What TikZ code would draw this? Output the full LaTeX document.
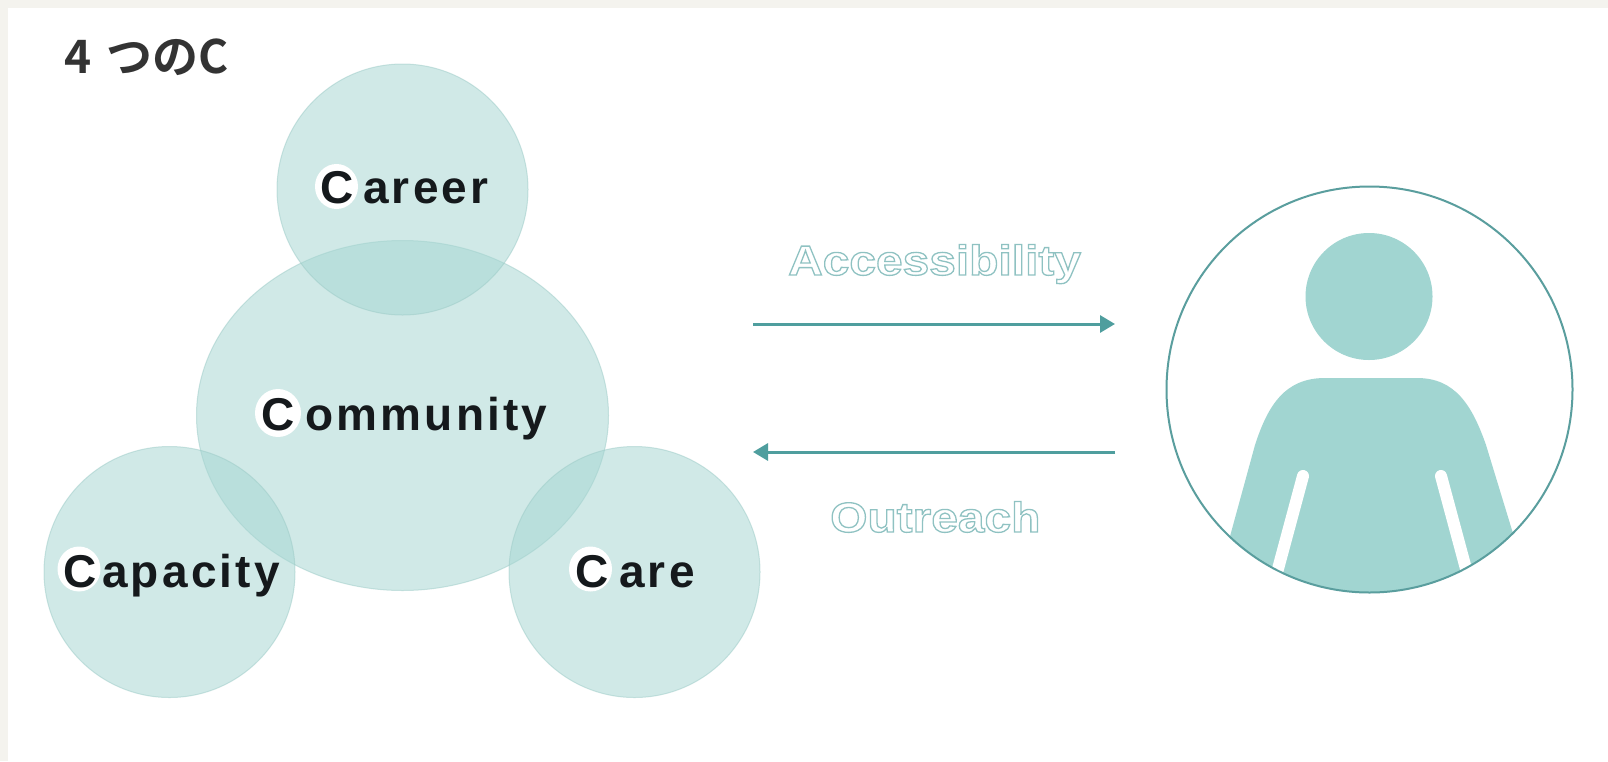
\documentclass[tikz,border=0pt]{standalone}
\usepackage{fontspec}
\usetikzlibrary{arrows.meta,shapes.geometric}
\newfontfamily\labelfont[LetterSpace=7]{Liberation Sans Bold}
\newfontfamily\capfont{Liberation Sans Bold}
\newfontfamily\outlinefont[FakeStretch=1.14]{Liberation Sans Bold}
\newfontfamily\titlefont{Noto Sans CJK JP Bold}
\definecolor{pagebg}{HTML}{F4F3EE}
\definecolor{vennfill}{HTML}{A5D6D2}
\definecolor{vennedge}{HTML}{9CCBC7}
\definecolor{persona}{HTML}{A1D5D1}
\definecolor{ringcol}{HTML}{5A9E9E}
\definecolor{arrowcol}{HTML}{4F9E9E}
\definecolor{inkcol}{HTML}{15191C}
\definecolor{titlecol}{HTML}{333333}
\newcommand{\outlined}[1]{\special{pdf:code q 1 Tr 1.3 w 0.56 0.76 0.76 RG}{\outlinefont #1}\special{pdf:code Q}}
\tikzset{
  venncircle/.style={circle,minimum size=251pt,inner sep=0pt,fill=vennfill,fill opacity=0.52,draw=vennedge,draw opacity=0.5,line width=1pt},
  vennmain/.style={ellipse,minimum width=412pt,minimum height=350pt,inner sep=0pt,fill=vennfill,fill opacity=0.52,draw=vennedge,draw opacity=0.5,line width=1pt},
  halo/.style={ellipse,minimum width=43pt,minimum height=45pt,inner sep=0pt,fill=white},
  capletter/.style={anchor=base west,inner sep=0pt,text=inkcol,font=\capfont\fontsize{46}{46}\selectfont},
  restletters/.style={anchor=base west,inner sep=0pt,text=inkcol,font=\labelfont\fontsize{46}{46}\selectfont},
  linkarrow/.style={draw=arrowcol,line width=3pt,-{Triangle[length=15pt,width=17pt,fill=arrowcol]},shorten >=0pt},
  outlinetext/.style={anchor=base west,inner sep=0pt,font=\fontsize{42}{42}\selectfont}
}
\begin{document}
\begin{tikzpicture}[x=1pt,y=-1pt]
\useasboundingbox (0,0) rectangle (1608,761);
\fill[pagebg] (0,0) rectangle (1608,761);
\fill[white] (8,8) rectangle (1608,761);
% title
\node[anchor=base west,inner sep=0pt,text=titlecol,font=\titlefont\fontsize{46}{46}\selectfont] (title) at (64,73) {4\hspace{15pt}つのC};
% venn
\node[vennmain] (community) at (402.5,415.5) {};
\node[venncircle] (career) at (402.5,189.5) {};
\node[venncircle] (capacity) at (169.5,572) {};
\node[venncircle] (care) at (634.5,572) {};
% halos
\node[halo] (hcareer) at (336.5,186.5) {};
\node[halo,minimum width=46pt,minimum height=48pt] (hcommunity) at (278,413) {};
\node[halo] (hcapacity) at (79,569) {};
\node[halo] (hcare) at (590.5,569) {};
% labels
\node[capletter] (ccareer) at (320,203) {C};
\node[restletters] (tcareer) at (363,203) {areer};
\node[capletter] (ccommunity) at (261,430) {C};
\node[restletters] (tcommunity) at (305,430) {ommunity};
\node[capletter] (ccapacity) at (63,587) {C};
\node[restletters] (tcapacity) at (102,587) {apacity};
\node[capletter] (ccare) at (575,587) {C};
\node[restletters] (tcare) at (619,587) {are};
% arrows
\coordinate (a1s) at (753,324);
\coordinate (a1e) at (1115,324);
\coordinate (a2s) at (1115,452);
\coordinate (a2e) at (753,452);
\draw[linkarrow] (a1s) -- (a1e);
\draw[linkarrow] (a2s) -- (a2e);
\node[outlinetext] (access) at (788,275) {\outlined{Accessibility}};
\node[outlinetext] (outreach) at (830,532) {\outlined{Outreach}};
% person
\begin{scope}
\clip (1369.5,389.5) circle (203);
\fill[persona] (1229,540) -- (1255,445)
  .. controls (1268,405) and (1285,378) .. (1325,378)
  -- (1417,378)
  .. controls (1455,378) and (1472,405) .. (1486,445)
  -- (1515,540) -- (1515,610) -- (1229,610) -- cycle;
\draw[white,line width=12pt,line cap=round] (1303,476) -- (1275,580);
\draw[white,line width=12pt,line cap=round] (1441,476) -- (1469,580);
\end{scope}
\fill[persona] (1369,296.5) circle (63.5);
\node[circle,minimum size=406pt,inner sep=0pt,draw=ringcol,line width=2pt] (ring) at (1369.5,389.5) {};
\end{tikzpicture}
\end{document}
